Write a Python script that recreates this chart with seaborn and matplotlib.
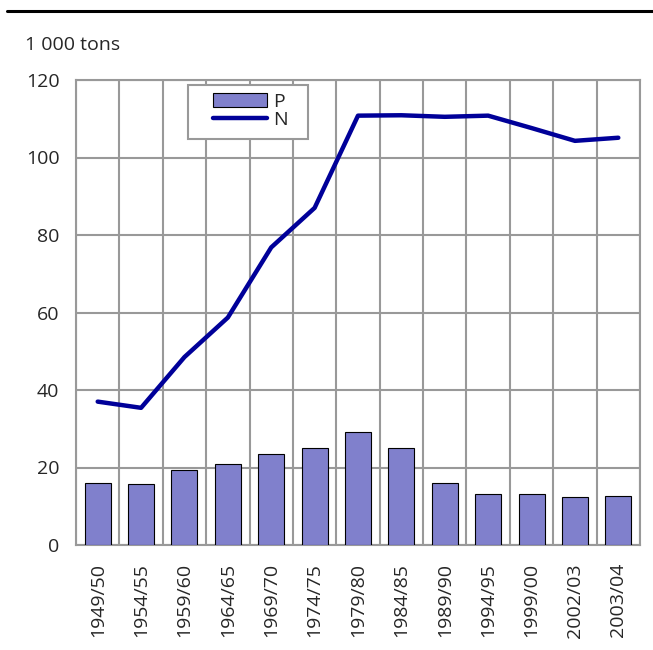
import matplotlib
matplotlib.use("Agg")
import matplotlib.pyplot as plt
import seaborn as sns
import numpy as np
import pandas as pd
from matplotlib.patches import Patch, Rectangle
from matplotlib.lines import Line2D

periods = ["1949/50", "1954/55", "1959/60", "1964/65", "1969/70", "1974/75",
           "1979/80", "1984/85", "1989/90", "1994/95", "1999/00", "2002/03", "2003/04"]
p_values = [16.1, 15.8, 19.4, 21.0, 23.6, 25.0, 29.1, 25.0, 16.0, 13.2, 13.2, 12.5, 12.7]
n_values = [37.0, 35.4, 48.5, 58.7, 76.8, 87.0, 110.8, 110.9, 110.5, 110.8, 107.6, 104.3, 105.1]
y_ticks = [0, 20, 40, 60, 80, 100, 120]
unit_label = "1 000 tons"

df = pd.DataFrame({"period": periods, "P": p_values, "N": n_values})

sns.set_style("white")
plt.rcParams["font.family"] = ["Open Sans", "DejaVu Sans"]

grey = "#999999"
bar_color = "#8080CC"
line_color = "#000099"

W, H = 653, 650
L, R, T, B = 76, 640, 80, 545

fig = plt.figure(figsize=(W / 100, H / 100), dpi=100)
ax = fig.add_axes([L / W, 1 - B / H, (R - L) / W, (B - T) / H])

sns.barplot(data=df, x="period", y="P", color=bar_color, width=0.6,
            edgecolor="black", linewidth=0.8, saturation=1, ax=ax, zorder=3)
sns.pointplot(data=df, x="period", y="N", color=line_color, markers="",
              linestyles="-", ax=ax, zorder=4)
for ln in ax.lines:
    ln.set_linewidth(3.2)
    ln.set_solid_capstyle("round")

n = len(periods)
ax.set_xlim(-0.5, n - 0.5)
ax.set_ylim(0, 120)
ax.set_yticks(y_ticks)
ax.set_xticks(range(n))
ax.set_xticklabels(periods, rotation=90)
ax.set_xticks(np.arange(n + 1) - 0.5, minor=True)
ax.tick_params(axis="x", which="major", length=0, pad=13, labelsize=14)
ax.tick_params(axis="x", which="minor", length=6, width=1.5, color=grey)
ax.tick_params(axis="y", length=6, width=1.5, color=grey, labelsize=14, pad=6)
ax.grid(False)
ax.xaxis.grid(True, which="minor", color=grey, linewidth=1.5, zorder=0)
ax.yaxis.grid(True, which="major", color=grey, linewidth=1.5, zorder=0)
ax.set_axisbelow(True)
for s in ax.spines.values():
    s.set_color(grey)
    s.set_linewidth(1.5)
ax.set_xlabel("")
ax.set_ylabel("")

def ax_xy(px, py):
    return ((px - L) / (R - L), (B - py) / (B - T))

# legend frame
fx0, fy1 = ax_xy(188, 139)
fx1, fy0 = ax_xy(308, 85)
ax.add_patch(Rectangle((fx0, fy1), fx1 - fx0, fy0 - fy1, transform=ax.transAxes,
                       facecolor="white", edgecolor=grey, linewidth=1.5, zorder=9))

handles = [Patch(facecolor=bar_color, edgecolor="black", linewidth=0.8),
           Line2D([0], [0], color=line_color, linewidth=3.2, solid_capstyle="round")]
leg = ax.legend(handles, ["P", "N"], loc="upper left",
                bbox_to_anchor=ax_xy(213, 93), fontsize=14,
                frameon=False, handlelength=2.8, handleheight=0.72,
                labelspacing=0.0, borderpad=0, handletextpad=0.3, borderaxespad=0)
leg.set_zorder(10)

fig.text(25 / W, 1 - 45 / H, unit_label, fontsize=14, va="center", ha="left")
fig.add_artist(Line2D([7 / W, 1.0], [1 - 11 / H, 1 - 11 / H], color="black", linewidth=2.2,
                      transform=fig.transFigure))

fig.savefig("out.png", dpi=100)
